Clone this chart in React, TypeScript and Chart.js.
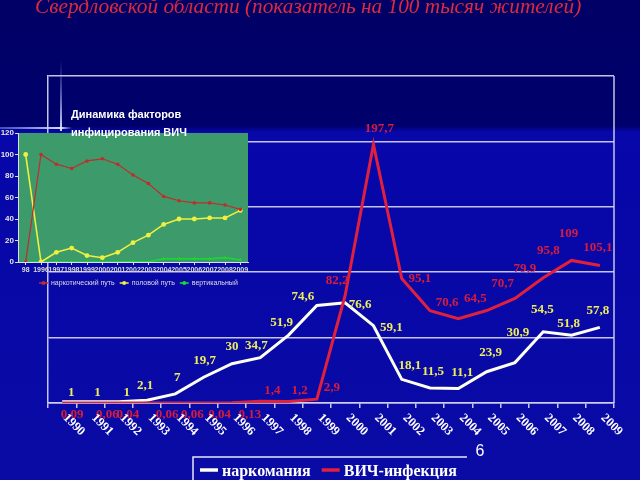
import React, { useEffect, useRef } from "react";
import { Chart, registerables } from "chart.js";

Chart.register(...registerables);

// ---------------- data ----------------
const TITLE = "Свердловской области (показатель на 100 тысяч жителей)";
const slideNumber = "6";

const years = [
  "1990", "1991", "1992", "1993", "1994", "1995", "1996", "1997", "1998", "1999",
  "2000", "2001", "2002", "2003", "2004", "2005", "2006", "2007", "2008", "2009",
];
const narcomania = [1, 1, 1, 2.1, 7, 19.7, 30, 34.7, 51.9, 74.6, 76.6, 59.1, 18.1, 11.5, 11.1, 23.9, 30.9, 54.5, 51.8, 57.8];
const hivInfection = [0.09, 0.06, 0.04, 0.06, 0.06, 0.04, 0.13, 1.4, 1.2, 2.9, 82.2, 197.7, 95.1, 70.6, 64.5, 70.7, 79.9, 95.8, 109, 105.1];
const seriesNames = ["наркомания", "ВИЧ-инфекция"];
const yMin = 0;
const yMax = 250;
const yStep = 50;

// label nudges (dx, dy) relative to the point, in px
const narcoLabelNudge: [number, number][] = [
  [9, -9], [7, -9], [8, -9], [-2, -15], [2, -16], [1, -17], [0, -17], [-4, -12], [-7, -12], [-14, -9],
  [15, 2], [18, 2], [8, -14], [3, -16], [4, -16], [4, -19], [3, -30], [-1, -22], [-3, -12], [-2, -17],
];
const hivLabelNudge: [number, number][] = [
  [10, 12], [17, 12], [9, 12], [20, 12], [17, 12], [16, 12], [18, 12], [12, -11], [11, -11], [15, -12],
  [-8, -15], [6, -16], [18, 0], [17, -8], [17, -20], [16, -27], [10, -30], [5, -27], [-3, -27], [-2, -18],
];

// inset chart
const insetTitle = ["Динамика факторов", "инфицирования ВИЧ"];
const insetCategories = ["98", "1996", "1997", "1998", "1999", "2000", "2001", "2002", "2003", "2004", "2005", "2006", "2007", "2008", "2009"];
const insetDrugRoute = [0, 100, 91, 87, 94, 96, 91, 81, 73, 61, 57, 55, 55, 53, 49];
const insetSexualRoute = [100, 0, 9, 13, 6, 4, 9, 18, 25, 35, 40, 40, 41, 41, 48];
const insetVerticalRoute = [0, 0, 0, 0, 0, 0, 0, 0.5, 0, 3, 3, 3, 3, 4, 2];
const insetSeriesNames = ["наркотический путь", "половой путь", "вертикальный"];
const insetYMax = 120;
const insetYStep = 20;

// ---------------- styles ----------------
const SERIF = "'Liberation Serif', 'Times New Roman', serif";
const SANS = "'Liberation Sans', Arial, sans-serif";
const GRID = "rgba(208,208,238,0.95)";
const NARCO_LINE = "#fffff0";
const NARCO_TEXT = "#eeee5c";
const HIV_LINE = "#e0203c";
const HIV_TEXT = "#d81c3c";

const fmt = (v: number) => String(v).replace(".", ",");

const mainPlugin = {
  id: "mainDecor",
  beforeDraw(chart: any) {
    const { ctx, width, height } = chart;
    ctx.save();
    const g = ctx.createLinearGradient(0, 0, 0, height);
    g.addColorStop(0, "#000066");
    g.addColorStop(0.262, "#00006c");
    g.addColorStop(0.275, "#0707aa");
    g.addColorStop(1, "#0a0aa4");
    ctx.fillStyle = g;
    ctx.fillRect(0, 0, width, height);
    ctx.restore();
  },
  afterDraw(chart: any) {
    const { ctx, chartArea } = chart;
    const xs = chart.scales.x;
    const ys = chart.scales.y;
    ctx.save();

    // right border of frame
    ctx.strokeStyle = GRID;
    ctx.lineWidth = 1.5;
    ctx.beginPath();
    ctx.moveTo(chartArea.right, chartArea.top);
    ctx.lineTo(chartArea.right, chartArea.bottom);
    ctx.stroke();

    // data labels
    ctx.font = `bold 13px ${SERIF}`;
    ctx.textAlign = "center";
    ctx.textBaseline = "middle";
    narcomania.forEach((v, i) => {
      const x = xs.getPixelForValue(i);
      const y = ys.getPixelForValue(v);
      ctx.fillStyle = NARCO_TEXT;
      ctx.fillText(fmt(v), x + narcoLabelNudge[i][0], y + narcoLabelNudge[i][1]);
    });
    hivInfection.forEach((v, i) => {
      const x = xs.getPixelForValue(i);
      const y = ys.getPixelForValue(v);
      ctx.fillStyle = HIV_TEXT;
      ctx.fillText(fmt(v), x + hivLabelNudge[i][0], y + hivLabelNudge[i][1]);
    });

    // x labels rotated down-right
    ctx.fillStyle = "#ffffff";
    ctx.font = `bold 12.5px ${SERIF}`;
    ctx.textAlign = "left";
    ctx.textBaseline = "middle";
    years.forEach((lab, i) => {
      const x = xs.getPixelForValue(i);
      ctx.save();
      ctx.translate(x + 3, chartArea.bottom + 13);
      ctx.rotate(Math.PI / 4);
      ctx.fillText(lab, 0, 0);
      ctx.restore();
    });

    // legend
    ctx.strokeStyle = "#e8e8f4";
    ctx.lineWidth = 1.5;
    ctx.beginPath();
    ctx.moveTo(193, 481);
    ctx.lineTo(193, 457);
    ctx.lineTo(467, 457);
    ctx.stroke();
    ctx.font = `bold 16px ${SERIF}`;
    ctx.textBaseline = "middle";
    ctx.textAlign = "left";
    const legendColors = [NARCO_LINE, HIV_LINE];
    let lx = 200;
    seriesNames.forEach((name, i) => {
      ctx.strokeStyle = legendColors[i];
      ctx.lineWidth = 3.5;
      ctx.beginPath();
      ctx.moveTo(lx, 470);
      ctx.lineTo(lx + 18, 470);
      ctx.stroke();
      ctx.fillStyle = "#ffffff";
      ctx.fillText(name, lx + 22, 472);
      lx += 22 + ctx.measureText(name).width + 11;
    });

    // slide number
    ctx.font = `16px ${SANS}`;
    ctx.textAlign = "center";
    ctx.fillStyle = "#ffffff";
    ctx.fillText(slideNumber, 480, 452);

    // title (cut off at top)
    ctx.font = `italic 21.3px ${SERIF}`;
    ctx.textAlign = "left";
    ctx.textBaseline = "alphabetic";
    ctx.fillStyle = "#dc2a3c";
    ctx.fillText(TITLE, 35, 13);

    // light flare
    const vg = ctx.createLinearGradient(0, 60, 0, 130);
    vg.addColorStop(0, "rgba(150,170,255,0)");
    vg.addColorStop(1, "rgba(220,230,255,0.95)");
    ctx.strokeStyle = vg;
    ctx.lineWidth = 2;
    ctx.beginPath();
    ctx.moveTo(61, 60);
    ctx.lineTo(61, 131);
    ctx.stroke();
    const hg = ctx.createLinearGradient(0, 0, 72, 0);
    hg.addColorStop(0, "rgba(120,150,255,0.5)");
    hg.addColorStop(0.85, "rgba(225,235,255,0.95)");
    hg.addColorStop(1, "rgba(200,210,255,0)");
    ctx.strokeStyle = hg;
    ctx.beginPath();
    ctx.moveTo(0, 128);
    ctx.lineTo(72, 128);
    ctx.stroke();

    ctx.restore();
  },
};

const INSET_GREEN = "#3d9b6b";
const INSET_RED = "#c02c2c";
const INSET_YELLOW = "#f0f040";
const INSET_GREENLINE = "#18dc28";

const insetPlugin = {
  id: "insetDecor",
  beforeDraw(chart: any) {
    const { ctx, chartArea } = chart;
    ctx.save();
    ctx.fillStyle = INSET_GREEN;
    ctx.fillRect(chartArea.left, chartArea.top, chartArea.right - chartArea.left, chartArea.bottom - chartArea.top);
    ctx.restore();
  },
  afterDraw(chart: any) {
    const { ctx } = chart;
    ctx.save();
    // title
    ctx.fillStyle = "#ffffff";
    ctx.font = `bold 11px ${SANS}`;
    ctx.textAlign = "left";
    ctx.textBaseline = "middle";
    ctx.fillText(insetTitle[0], 71, 15);
    ctx.fillText(insetTitle[1], 71, 33);
    // legend
    ctx.font = `7px ${SANS}`;
    const cols = [INSET_RED, INSET_YELLOW, INSET_GREENLINE];
    let lx = 39;
    const ly = 183;
    insetSeriesNames.forEach((name, i) => {
      ctx.strokeStyle = cols[i];
      ctx.fillStyle = cols[i];
      ctx.lineWidth = 1.5;
      ctx.beginPath();
      ctx.moveTo(lx, ly);
      ctx.lineTo(lx + 9, ly);
      ctx.stroke();
      ctx.beginPath();
      ctx.arc(lx + 4.5, ly, 2, 0, Math.PI * 2);
      ctx.fill();
      ctx.fillStyle = "#dddddd";
      ctx.fillText(name, lx + 12, ly);
      lx += 12 + ctx.measureText(name).width + 5;
    });
    ctx.restore();
  },
};

export default function App() {
  const mainRef = useRef<HTMLCanvasElement | null>(null);
  const insetRef = useRef<HTMLCanvasElement | null>(null);

  useEffect(() => {
    if (!mainRef.current || !insetRef.current) return;
    const main = new Chart(mainRef.current, {
      type: "line",
      data: {
        labels: years,
        datasets: [
          { label: seriesNames[0], data: narcomania, borderColor: NARCO_LINE, borderWidth: 3, pointRadius: 0, tension: 0, order: 1 },
          { label: seriesNames[1], data: hivInfection, borderColor: HIV_LINE, borderWidth: 3, pointRadius: 0, tension: 0, order: 0 },
        ],
      },
      options: {
        responsive: false,
        animation: false,
        layout: { padding: { left: 48, right: 26, top: 76, bottom: 72 } },
        plugins: { legend: { display: false }, tooltip: { enabled: false }, title: { display: false } },
        scales: {
          x: {
            type: "category",
            offset: true,
            grid: { offset: true, drawOnChartArea: false, drawTicks: true, tickLength: 5, color: GRID, lineWidth: 1.5 },
            border: { display: true, color: GRID, width: 1.5 },
            ticks: { display: false },
            afterFit: (s: any) => { s.height = 5; },
          },
          y: {
            min: yMin,
            max: yMax,
            ticks: { display: false, stepSize: yStep },
            grid: { color: GRID, lineWidth: 1.5, drawTicks: false },
            border: { display: true, color: GRID, width: 1.5 },
            afterFit: (s: any) => { s.width = 0; },
          },
        },
      } as any,
      plugins: [mainPlugin],
    });

    const inset = new Chart(insetRef.current, {
      type: "line",
      data: {
        labels: insetCategories,
        datasets: [
          { label: insetSeriesNames[0], data: insetDrugRoute, borderColor: INSET_RED, backgroundColor: INSET_RED, borderWidth: 1.2, pointRadius: 1.8, pointBorderWidth: 0, tension: 0 },
          { label: insetSeriesNames[1], data: insetSexualRoute, borderColor: INSET_YELLOW, backgroundColor: INSET_YELLOW, borderWidth: 1.6, pointRadius: 2.4, pointBorderWidth: 0, tension: 0 },
          { label: insetSeriesNames[2], data: insetVerticalRoute, borderColor: INSET_GREENLINE, backgroundColor: INSET_GREENLINE, borderWidth: 1.4, pointRadius: 2, pointBorderWidth: 0, pointStyle: "triangle", tension: 0 },
        ],
      },
      options: {
        responsive: false,
        animation: false,
        layout: { padding: { left: 0, right: 14, top: 33, bottom: 19 } },
        plugins: { legend: { display: false }, tooltip: { enabled: false } },
        scales: {
          x: {
            type: "category",
            offset: true,
            grid: { display: true, drawOnChartArea: false, tickLength: 3, color: "#dddddd" },
            border: { display: true, color: "#dddddd", width: 1 },
            ticks: { autoSkip: false, maxRotation: 0, minRotation: 0, padding: 1, color: "#dddddd", font: { size: 7, weight: "bold", family: SANS } },
            afterFit: (s: any) => { s.height = 14; },
          },
          y: {
            min: 0,
            max: insetYMax,
            ticks: { stepSize: insetYStep, padding: 1, color: "#e6e6e6", font: { size: 8, weight: "bold", family: SANS } },
            grid: { display: true, drawOnChartArea: false, tickLength: 3, color: "#dddddd" },
            border: { display: true, color: "#dddddd", width: 1 },
            afterFit: (s: any) => { s.width = 18; },
          },
        },
      } as any,
      plugins: [insetPlugin],
    });

    return () => {
      main.destroy();
      inset.destroy();
    };
  }, []);

  return (
    <div style={{ position: "fixed", left: 0, top: 0, width: 640, height: 480, overflow: "hidden", background: "#00006a" }}>
      <canvas ref={mainRef} width={640} height={480} style={{ position: "absolute", left: 0, top: 0, width: 640, height: 480 }} />
      <canvas ref={insetRef} width={262} height={195} style={{ position: "absolute", left: 0, top: 100, width: 262, height: 195 }} />
    </div>
  );
}
